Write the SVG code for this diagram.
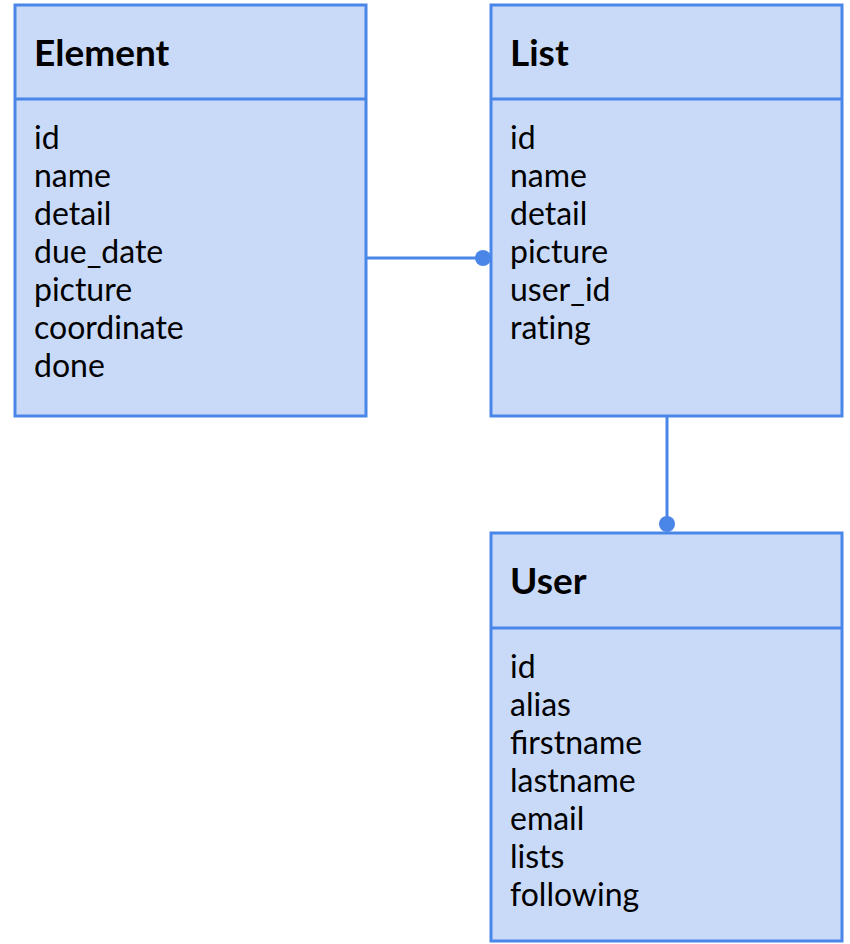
<svg xmlns="http://www.w3.org/2000/svg" width="850" height="944" viewBox="0 0 850 944">
<style>
.box{fill:#c9daf8;stroke:#4a86e8;stroke-width:3}
.div{stroke:#4a86e8;stroke-width:3}
.title{font-family:Lato,"Liberation Sans",sans-serif;font-weight:bold;font-size:37px;fill:#000}
.field{font-family:Lato,"Liberation Sans",sans-serif;font-size:32px;fill:#000}
.conn{stroke:#4a86e8;stroke-width:3;fill:none}
.dot{fill:#4a86e8}
</style>
<rect width="850" height="944" fill="#fff"/>
<g id="element">
<rect class="box" x="15" y="5" width="351" height="411"/>
<line class="div" x1="15" y1="99" x2="366" y2="99"/>
<text class="title" x="34" y="66">Element</text>
<text class="field" x="34" y="149">id</text>
<text class="field" x="34" y="187">name</text>
<text class="field" x="34" y="225">detail</text>
<text class="field" x="34" y="263">due_date</text>
<text class="field" x="34" y="301">picture</text>
<text class="field" x="34" y="339">coordinate</text>
<text class="field" x="34" y="377">done</text>
</g>
<g id="list">
<rect class="box" x="491" y="5" width="351" height="411"/>
<line class="div" x1="491" y1="99" x2="842" y2="99"/>
<text class="title" x="510" y="66">List</text>
<text class="field" x="510" y="149">id</text>
<text class="field" x="510" y="187">name</text>
<text class="field" x="510" y="225">detail</text>
<text class="field" x="510" y="263">picture</text>
<text class="field" x="510" y="301">user_id</text>
<text class="field" x="510" y="339">rat&#8204;ing</text>
</g>
<g id="user">
<rect class="box" x="491" y="533" width="351" height="408"/>
<line class="div" x1="491" y1="628" x2="842" y2="628"/>
<text class="title" x="510" y="594">User</text>
<text class="field" x="510" y="678">id</text>
<text class="field" x="510" y="716">alias</text>
<text class="field" x="510" y="754">firstname</text>
<text class="field" x="510" y="792">lastname</text>
<text class="field" x="510" y="830">email</text>
<text class="field" x="510" y="868">lists</text>
<text class="field" x="510" y="906">following</text>
</g>
<g id="connectors">
<line class="conn" x1="366" y1="258" x2="483" y2="258"/>
<circle class="dot" cx="483" cy="258" r="8"/>
<line class="conn" x1="667" y1="416" x2="667" y2="524"/>
<circle class="dot" cx="667" cy="524" r="8"/>
</g>
</svg>
